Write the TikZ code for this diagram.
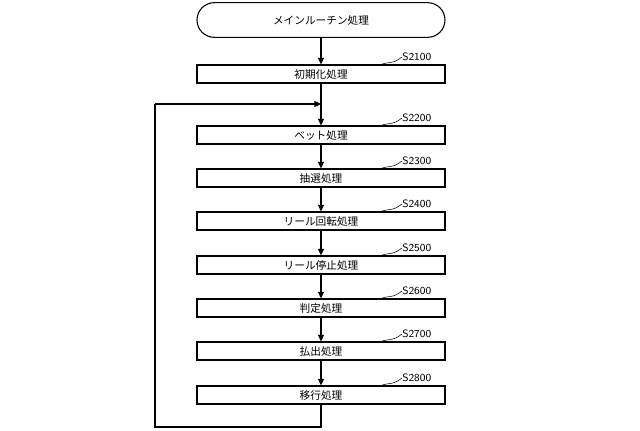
\documentclass[tikz,border=0pt]{standalone}
\usepackage{fontspec}
\newfontfamily\cjk{Noto Sans CJK JP}
\usetikzlibrary{arrows.meta}
\begin{document}
\begin{tikzpicture}[x=0.75pt,y=-0.75pt,
  proc/.style={draw,line width=0.8pt,minimum width=186pt,minimum height=13.5pt,inner sep=0pt,font=\cjk\fontsize{8}{9}\selectfont},
  term/.style={draw,line width=0.8pt,rounded corners=13pt,minimum width=186pt,minimum height=26pt,inner sep=0pt,font=\cjk\fontsize{8}{9}\selectfont},
  lbl/.style={font=\sffamily\fontsize{8}{9}\selectfont,anchor=west,inner sep=0pt},
  arr/.style={line width=0.8pt,-{Triangle[length=5pt,width=4.5pt]}},
  lead/.style={line width=0.4pt}]
\useasboundingbox (0,0) rectangle (640,430);
\node[term] (t) at (321,20) {メインルーチン処理};
\foreach \n/\y/\t/\s in {a/74/初期化処理/S2100, b/135/ベット処理/S2200, c/178/抽選処理/S2300, d/221/リール回転処理/S2400, e/265/リール停止処理/S2500, f/308/判定処理/S2600, g/351/払出処理/S2700, h/395/移行処理/S2800}{
  \node[proc] (\n) at (321,\y) {\t};
  \node[lbl] (l\n) at (402,\y-17) {\s};
  \draw[lead] (380,\y-9) .. controls (388,\y-13) and (392,\y-9) .. (l\n.west);
}
\coordinate (j) at (321,104);
\coordinate (c1) at (155,427);
\coordinate (c2) at (155,104);
\coordinate (c0) at (321,427);
\draw[arr] (t) -- (a);
\draw[line width=0.8pt] (a) -- (j);
\draw[arr] (j) -- (b);
\draw[arr] (b) -- (c);
\draw[arr] (c) -- (d);
\draw[arr] (d) -- (e);
\draw[arr] (e) -- (f);
\draw[arr] (f) -- (g);
\draw[arr] (g) -- (h);
\draw[line width=0.8pt] (h) -- (c0) -- (c1) -- (c2);
\draw[arr] (c2) -- (j);
\end{tikzpicture}
\end{document}
